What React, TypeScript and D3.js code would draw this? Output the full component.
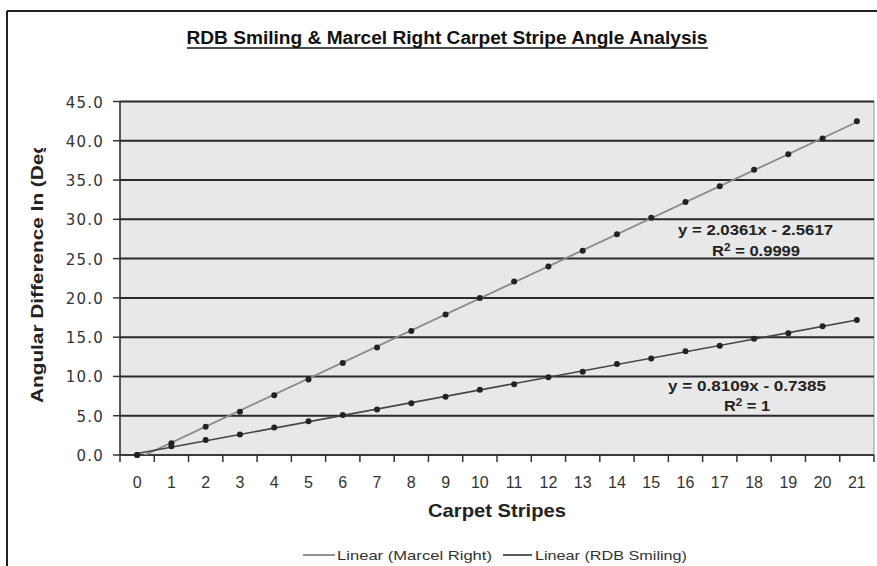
import React from "react";
import * as d3 from "d3";

const categories = ["0","1","2","3","4","5","6","7","8","9","10","11","12","13","14","15","16","17","18","19","20","21"];
const marcelRight = [0, 1.5, 3.6, 5.5, 7.6, 9.6, 11.7, 13.7, 15.8, 17.9, 20.0, 22.1, 24.0, 26.0, 28.1, 30.2, 32.2, 34.2, 36.3, 38.3, 40.3, 42.5];
const rdbSmiling = [0, 1.1, 1.9, 2.6, 3.5, 4.3, 5.1, 5.8, 6.6, 7.4, 8.3, 9.0, 9.9, 10.6, 11.6, 12.3, 13.2, 13.9, 14.8, 15.5, 16.4, 17.2];
const yTicks = [0, 5, 10, 15, 20, 25, 30, 35, 40, 45];
const title = "RDB Smiling & Marcel Right Carpet Stripe Angle Analysis";
const xTitle = "Carpet Stripes";
const yTitle = "Angular Difference In (Deg";
const eqMarcel = ["y = 2.0361x - 2.5617", "R", " = 0.9999"];
const eqRdb = ["y = 0.8109x - 0.7385", "R", " = 1"];
const legendLabels = ["Linear (Marcel Right)", "Linear (RDB Smiling)"];

function regression(vals: number[]) {
  const xs = vals.map((_, i) => i);
  const mx = d3.mean(xs) as number;
  const my = d3.mean(vals) as number;
  let sxy = 0, sxx = 0;
  xs.forEach((x, i) => { sxy += (x - mx) * (vals[i] - my); sxx += (x - mx) * (x - mx); });
  const slope = sxy / sxx;
  return { slope, intercept: my - slope * mx };
}

export default function App() {
  const W = 877, H = 566;
  const left = 120, right = 874, top = 101.5, bottom = 455;
  const x = d3.scaleBand<string>().domain(categories).range([left, right]).padding(0);
  const y = d3.scaleLinear().domain([0, 45]).range([bottom, top]);
  const cx = (i: number) => (x(categories[i]) as number) + x.bandwidth() / 2;
  const regM = regression(marcelRight);
  const regR = regression(rdbSmiling);
  const trend = (reg: { slope: number; intercept: number }) => {
    const pts: [number, number][] = [0, categories.length - 1].map(i => [cx(i), y(reg.intercept + reg.slope * i)]);
    return d3.line()(pts) as string;
  };
  const font = "'Liberation Sans', Arial, sans-serif";
  const narrow = "'Liberation Sans Narrow', 'Arial Narrow', 'Liberation Sans', Arial, sans-serif";
  return (
    <svg width={W} height={H} style={{ position: "absolute", left: 0, top: 0, background: "#fff" }}>
      <defs>
        <clipPath id="ytclip"><rect x={0} y={148} width={100} height={400} /></clipPath>
        <clipPath id="plotclip"><rect x={left} y={top} width={right - left} height={bottom - top} /></clipPath>
      </defs>
      {/* outer frame */}
      <line x1={7} y1={11} x2={W} y2={11} stroke="#222" strokeWidth={2} />
      <line x1={7} y1={11} x2={7} y2={H} stroke="#222" strokeWidth={2} />
      {/* title */}
      <text x={447} y={44} textAnchor="middle" fontFamily={narrow} fontWeight="bold" fontSize={18} fill="#111"
        textLength={521} lengthAdjust="spacingAndGlyphs">{title}</text>
      <line x1={187} x2={708} y1={48} y2={48} stroke="#111" strokeWidth={1.5} />
      {/* plot area */}
      <rect x={left} y={top} width={right - left} height={bottom - top} fill="#e8e8e8" stroke="#999" strokeWidth={1} />
      {yTicks.map(t => (
        <line key={"g" + t} x1={left} x2={right} y1={y(t)} y2={y(t)} stroke="#2a2a2a" strokeWidth={t === 0 ? 1.5 : 2} />
      ))}
      {/* y axis */}
      <line x1={left} x2={left} y1={top} y2={bottom} stroke="#333" strokeWidth={1.5} />
      {yTicks.map(t => (
        <g key={"yt" + t}>
          <line x1={left - 7} x2={left} y1={y(t)} y2={y(t)} stroke="#333" strokeWidth={1.5} />
          <text x={104} y={y(t) + 6} textAnchor="end" fontFamily="'DejaVu Sans', Verdana, sans-serif" fontSize={15}
            letterSpacing={1.2} fill="#333">{t.toFixed(1)}</text>
        </g>
      ))}
      {/* x axis */}
      <line x1={left} x2={right} y1={bottom} y2={bottom} stroke="#333" strokeWidth={1.5} />
      {categories.map((c) => (
        <line key={"xt" + c} x1={x(c) as number} x2={x(c) as number} y1={bottom} y2={bottom + 7} stroke="#333" strokeWidth={1.5} />
      ))}
      <line x1={right} x2={right} y1={bottom} y2={bottom + 7} stroke="#333" strokeWidth={1.5} />
      {categories.map((c, i) => (
        <text key={"xl" + c} x={cx(i)} y={488} textAnchor="middle" fontFamily={font} fontSize={16} fill="#333">{c}</text>
      ))}
      {/* trendlines */}
      <g clipPath="url(#plotclip)">
        <path d={trend(regM)} stroke="#8a8a8a" strokeWidth={1.8} fill="none" />
        <path d={trend(regR)} stroke="#444" strokeWidth={1.6} fill="none" />
      </g>
      {/* markers */}
      {marcelRight.map((v, i) => (
        <circle key={"m" + i} cx={cx(i)} cy={y(v)} r={3} fill="#222" />
      ))}
      {rdbSmiling.map((v, i) => (
        <circle key={"r" + i} cx={cx(i)} cy={y(v)} r={3} fill="#222" />
      ))}
      {/* equations */}
      <text x={755.5} y={235} textAnchor="middle" fontFamily={font} fontWeight="bold" fontSize={14} fill="#222"
        textLength={155} lengthAdjust="spacingAndGlyphs">{eqMarcel[0]}</text>
      <text x={756} y={256} textAnchor="middle" fontFamily={font} fontWeight="bold" fontSize={14} fill="#222"
        textLength={88} lengthAdjust="spacingAndGlyphs">
        {eqMarcel[1]}<tspan dy={-5} fontSize={10}>2</tspan><tspan dy={5}>{eqMarcel[2]}</tspan>
      </text>
      <text x={747} y={391} textAnchor="middle" fontFamily={font} fontWeight="bold" fontSize={14} fill="#222"
        textLength={158} lengthAdjust="spacingAndGlyphs">{eqRdb[0]}</text>
      <text x={747} y={411} textAnchor="middle" fontFamily={font} fontWeight="bold" fontSize={14} fill="#222"
        textLength={46} lengthAdjust="spacingAndGlyphs">
        {eqRdb[1]}<tspan dy={-5} fontSize={10}>2</tspan><tspan dy={5}>{eqRdb[2]}</tspan>
      </text>
      {/* axis titles */}
      <text x={497} y={517} textAnchor="middle" fontFamily={narrow} fontWeight="bold" fontSize={19} fill="#222"
        textLength={138} lengthAdjust="spacingAndGlyphs">{xTitle}</text>
      <g clipPath="url(#ytclip)">
        <text transform="translate(43,403) rotate(-90)" textAnchor="start" fontFamily={font} fontWeight="bold" fontSize={17}
          fill="#222" textLength={262} lengthAdjust="spacingAndGlyphs">{yTitle}</text>
      </g>
      {/* legend */}
      <line x1={303} x2={335} y1={555} y2={555} stroke="#777" strokeWidth={1.6} />
      <text x={337} y={560} fontFamily={font} fontSize={13} fill="#333" textLength={155} lengthAdjust="spacingAndGlyphs">{legendLabels[0]}</text>
      <line x1={503} x2={532} y1={555} y2={555} stroke="#333" strokeWidth={1.6} />
      <text x={535} y={560} fontFamily={font} fontSize={13} fill="#333" textLength={152} lengthAdjust="spacingAndGlyphs">{legendLabels[1]}</text>
    </svg>
  );
}
